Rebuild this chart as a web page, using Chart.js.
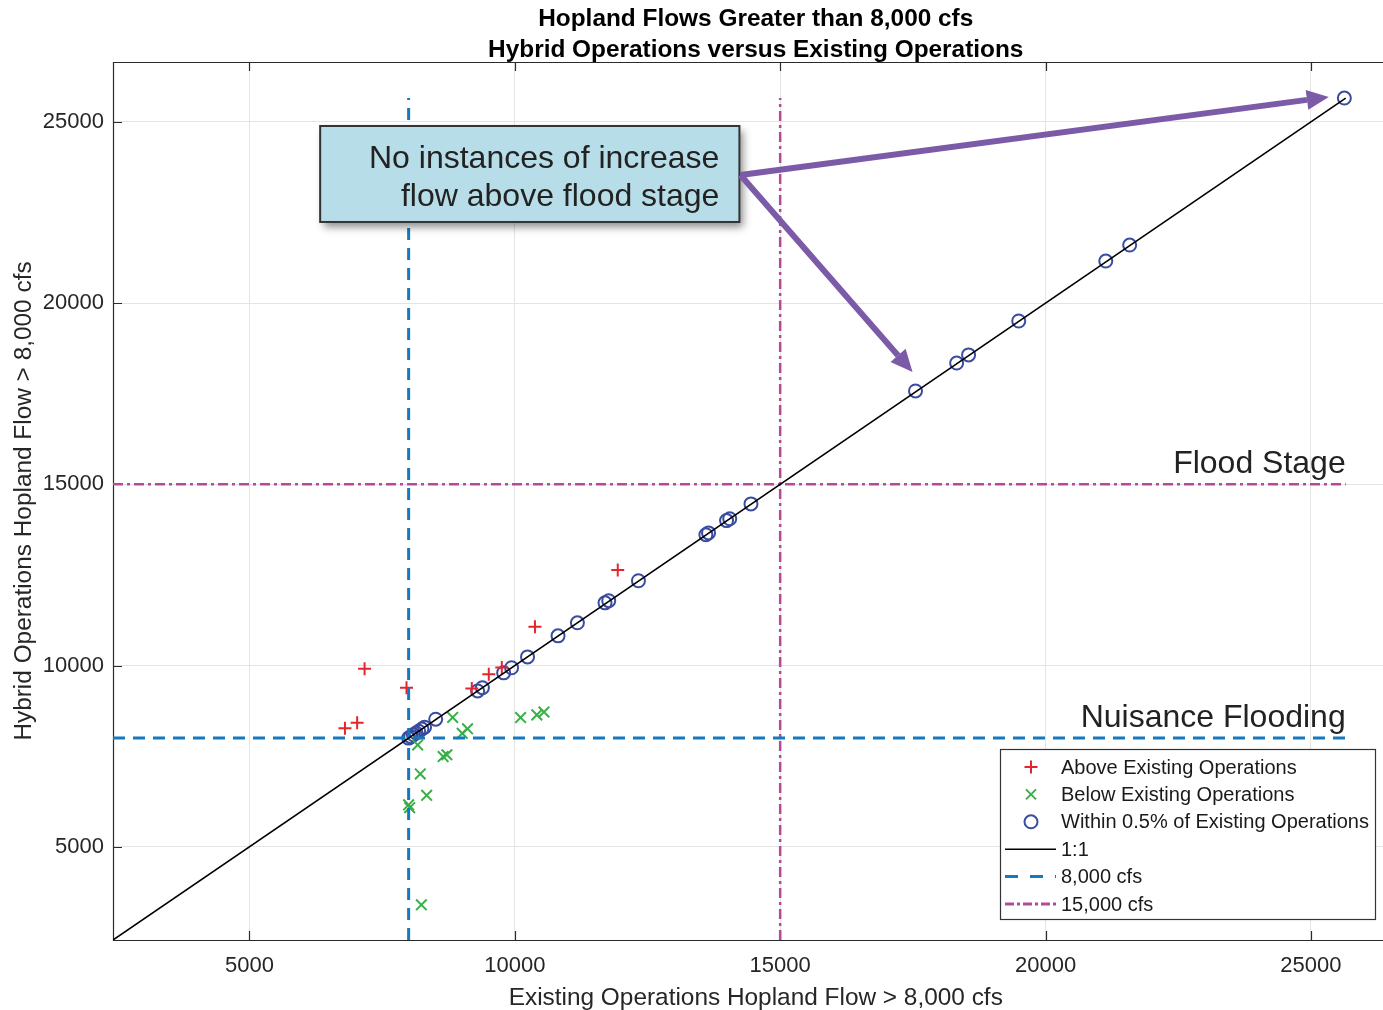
<!DOCTYPE html>
<html>
<head>
<meta charset="utf-8">
<title>Hopland Flows Greater than 8,000 cfs</title>
<script src="https://cdn.jsdelivr.net/npm/chart.js@4.4.1/dist/chart.umd.min.js"></script>
<style>
  html, body { margin: 0; padding: 0; background: #ffffff; overflow: hidden; }
  #wrap { width: 1408px; height: 1010px; }
</style>
</head>
<body>
<div id="wrap"><canvas id="flows" width="1408" height="1010"></canvas></div>
<script>
// Hopland flows (cfs): existing operations on x, hybrid operations on y
const aboveExisting = [6800, 7030, 7170, 7960, 9190, 9510, 9755, 10380, 11940];
const aboveHybrid   = [8270, 8420, 9910, 9390, 9370, 9760, 9950, 11070, 12640];

const belowExisting = [8000, 8020, 8170, 8220, 8340, 8240, 8650, 8720, 8830, 9010, 9110, 10110, 10415, 10550];
const belowHybrid   = [6160, 6080, 7810, 7010, 6420, 3400, 7490, 7540, 8570, 8130, 8255, 8565, 8640, 8720];

const withinExisting = [8000, 8040, 8090, 8140, 8190, 8250, 8300, 8510, 9300, 9390, 9790, 9940, 10240, 10815,
                        11180, 11700, 11770, 12330, 13600, 13650, 13990, 14050, 14450, 17550, 18325, 18550,
                        19495, 21135, 21585, 25630];
const withinHybrid   = [8000, 8040, 8090, 8140, 8190, 8250, 8300, 8520, 9300, 9390, 9800, 9940, 10240, 10820,
                        11180, 11730, 11790, 12340, 13610, 13660, 14000, 14050, 14460, 17575, 18345, 18570,
                        19505, 21160, 21600, 25655];

const tickValues = [5000, 10000, 15000, 20000, 25000];
const tickLabels = ['5000', '10000', '15000', '20000', '25000'];
const axisRange = [2430, 26650];

const nuisanceFlow = 8000;   // 8,000 cfs
const floodFlow = 15000;     // 15,000 cfs (flood stage)

// ---- derived series ----
const toPoints = (xs, ys) => xs.map((x, i) => ({ x: x, y: ys[i] }));
const maxFlow = Math.max(...withinExisting, ...withinHybrid);
const lineStart = axisRange[0];

const FONT = '"Liberation Sans", Arial, Helvetica, sans-serif';
const COLORS = {
  above: '#e5252c',
  below: '#3aae48',
  within: '#3a4c9f',
  unity: '#000000',
  nuisance: '#1479be',
  flood: '#b44a9c',
  arrow: '#7b5ba7',
  text: '#262626',
  frame: '#2b2b2b'
};
const DASH_NUISANCE = [12, 8];
const DASH_FLOOD = [10, 4, 3, 4];

// callout placed in data units so it follows the scales
const callout = {
  x0: 6333, x1: 14232, y0: 22237, y1: 24885,
  lines: ['No instances of increase', 'flow above flood stage'],
  anchor: { x: 14251, y: 23534 },
  targets: [{ x: 25337, y: 25685 }, { x: 17494, y: 18099 }]
};

const legendItems = [
  { kind: 'cross', color: COLORS.above, label: 'Above Existing Operations' },
  { kind: 'x', color: COLORS.below, label: 'Below Existing Operations' },
  { kind: 'circle', color: COLORS.within, label: 'Within 0.5% of Existing Operations' },
  { kind: 'line', color: COLORS.unity, dash: [], width: 1.6, label: '1:1' },
  { kind: 'line', color: COLORS.nuisance, dash: [13, 12], width: 3, label: '8,000 cfs' },
  { kind: 'line', color: COLORS.flood, dash: [9, 3, 3, 3], width: 3, label: '15,000 cfs' }
];

function drawArrow(ctx, x0, y0, x1, y1) {
  const ang = Math.atan2(y1 - y0, x1 - x0);
  const headLen = 22, headHalf = 10;
  const bx = x1 - headLen * Math.cos(ang), by = y1 - headLen * Math.sin(ang);
  ctx.beginPath();
  ctx.moveTo(x0, y0);
  ctx.lineTo(bx, by);
  ctx.stroke();
  ctx.beginPath();
  ctx.moveTo(x1, y1);
  ctx.lineTo(bx + headHalf * Math.sin(ang), by - headHalf * Math.cos(ang));
  ctx.lineTo(bx - headHalf * Math.sin(ang), by + headHalf * Math.cos(ang));
  ctx.closePath();
  ctx.fill();
}

const chartDecor = {
  id: 'chartDecor',
  beforeDatasetsDraw(chart) {
    const { ctx, chartArea: a, scales } = chart;
    ctx.save();
    // axes box (top, left, bottom) and inward tick marks
    ctx.strokeStyle = COLORS.frame;
    ctx.lineWidth = 1.2;
    ctx.beginPath();
    ctx.moveTo(a.right + 2, a.top + 0.5);
    ctx.lineTo(a.left + 0.5, a.top + 0.5);
    ctx.lineTo(a.left + 0.5, a.bottom + 0.5);
    ctx.lineTo(a.right + 2, a.bottom + 0.5);
    ctx.stroke();
    const tl = 9;
    ctx.beginPath();
    tickValues.forEach(v => {
      const px = Math.round(scales.x.getPixelForValue(v)) + 0.5;
      ctx.moveTo(px, a.bottom); ctx.lineTo(px, a.bottom - tl);
      ctx.moveTo(px, a.top); ctx.lineTo(px, a.top + tl);
      const py = Math.round(scales.y.getPixelForValue(v)) + 0.5;
      ctx.moveTo(a.left, py); ctx.lineTo(a.left + tl, py);
    });
    ctx.stroke();
    ctx.restore();
  },
  afterDraw(chart) {
    const { ctx, chartArea: a, scales } = chart;
    const X = v => scales.x.getPixelForValue(v);
    const Y = v => scales.y.getPixelForValue(v);
    const cx = (a.left + a.right) / 2;
    ctx.save();

    // title
    ctx.fillStyle = '#000';
    ctx.textAlign = 'center';
    ctx.textBaseline = 'alphabetic';
    ctx.font = 'bold 24.4px ' + FONT;
    ctx.fillText('Hopland Flows Greater than 8,000 cfs', cx, 26);
    ctx.fillText('Hybrid Operations versus Existing Operations', cx, 57);

    // axis titles
    ctx.fillStyle = COLORS.text;
    ctx.font = '24.4px ' + FONT;
    ctx.fillText('Existing Operations Hopland Flow > 8,000 cfs', cx, 1005);
    ctx.save();
    ctx.translate(31, (a.top + a.bottom) / 2);
    ctx.rotate(-Math.PI / 2);
    ctx.fillText('Hybrid Operations Hopland Flow > 8,000 cfs', 0, 0);
    ctx.restore();

    // threshold labels
    ctx.textAlign = 'right';
    ctx.font = '32px ' + FONT;
    ctx.fillStyle = '#222';
    ctx.fillText('Flood Stage', X(maxFlow), Y(floodFlow) - 11);
    ctx.fillText('Nuisance Flooding', X(maxFlow), Y(nuisanceFlow) - 11);

    // callout box with drop shadow
    const bx0 = X(callout.x0), bx1 = X(callout.x1);
    const by0 = Y(callout.y1), by1 = Y(callout.y0);
    ctx.save();
    ctx.shadowColor = 'rgba(0,0,0,0.45)';
    ctx.shadowBlur = 8;
    ctx.shadowOffsetX = 4;
    ctx.shadowOffsetY = 5;
    ctx.fillStyle = '#b7dde8';
    ctx.fillRect(bx0, by0, bx1 - bx0, by1 - by0);
    ctx.restore();
    ctx.strokeStyle = '#333';
    ctx.lineWidth = 2;
    ctx.strokeRect(bx0, by0, bx1 - bx0, by1 - by0);
    ctx.fillStyle = '#222';
    ctx.font = '32px ' + FONT;
    ctx.textAlign = 'right';
    ctx.fillText(callout.lines[0], bx1 - 20, by0 + 42);
    ctx.fillText(callout.lines[1], bx1 - 20, by0 + 80);

    // arrows from the callout
    ctx.strokeStyle = COLORS.arrow;
    ctx.fillStyle = COLORS.arrow;
    ctx.lineWidth = 6;
    ctx.lineCap = 'butt';
    const ax = X(callout.anchor.x), ay = Y(callout.anchor.y);
    callout.targets.forEach(t => drawArrow(ctx, ax, ay, X(t.x), Y(t.y)));

    // legend
    const lg = { x: 1000.5, y: 749.5, w: 375, h: 170, row0: 767, step: 27.4, sym: 1031, text: 1061, l0: 1005, l1: 1056 };
    ctx.fillStyle = '#fff';
    ctx.fillRect(lg.x, lg.y, lg.w, lg.h);
    ctx.strokeStyle = '#333';
    ctx.lineWidth = 1.2;
    ctx.setLineDash([]);
    ctx.strokeRect(lg.x, lg.y, lg.w, lg.h);
    ctx.font = '20px ' + FONT;
    ctx.textAlign = 'left';
    ctx.textBaseline = 'middle';
    legendItems.forEach((it, i) => {
      const y = lg.row0 + i * lg.step;
      ctx.strokeStyle = it.color;
      ctx.setLineDash([]);
      ctx.lineWidth = 2;
      ctx.beginPath();
      if (it.kind === 'cross') {
        ctx.moveTo(lg.sym - 6.5, y); ctx.lineTo(lg.sym + 6.5, y);
        ctx.moveTo(lg.sym, y - 6.5); ctx.lineTo(lg.sym, y + 6.5);
      } else if (it.kind === 'x') {
        ctx.moveTo(lg.sym - 5, y - 5); ctx.lineTo(lg.sym + 5, y + 5);
        ctx.moveTo(lg.sym - 5, y + 5); ctx.lineTo(lg.sym + 5, y - 5);
      } else if (it.kind === 'circle') {
        ctx.arc(lg.sym, y, 6.5, 0, Math.PI * 2);
      } else {
        ctx.lineWidth = it.width;
        ctx.setLineDash(it.dash);
        ctx.moveTo(lg.l0, y); ctx.lineTo(lg.l1, y);
      }
      ctx.stroke();
      ctx.setLineDash([]);
      ctx.fillStyle = '#1a1a1a';
      ctx.fillText(it.label, lg.text, y + 1);
    });
    ctx.restore();
  }
};

const lineSet = (label, data, color, width, dash) => ({
  label: label, data: data, showLine: true, pointRadius: 0, pointHoverRadius: 0,
  borderColor: color, borderWidth: width, borderDash: dash, fill: false, order: 0
});

const markerSet = (label, data, style, radius, color) => ({
  label: label, data: data, showLine: false, pointStyle: style, pointRadius: radius,
  pointHoverRadius: radius, pointBorderColor: color, pointBackgroundColor: 'rgba(0,0,0,0)',
  borderColor: color, backgroundColor: 'rgba(0,0,0,0)', pointBorderWidth: 2, order: 1
});

const scaleOpts = (isX) => ({
  type: 'linear',
  min: axisRange[0],
  max: axisRange[1],
  afterFit(s) { if (isX) s.height = 70; else s.width = 113; },
  afterBuildTicks(s) { s.ticks = tickValues.map(v => ({ value: v })); },
  grid: { color: '#e4e4e4', lineWidth: 1, drawTicks: false },
  border: { display: false },
  ticks: {
    padding: isX ? 13 : 9,
    color: COLORS.text,
    font: { family: FONT, size: 22 },
    maxRotation: 0,
    autoSkip: false,
    callback: v => tickLabels[tickValues.indexOf(v)]
  }
});

new Chart(document.getElementById('flows'), {
  type: 'scatter',
  data: {
    datasets: [
      markerSet('Above Existing Operations', toPoints(aboveExisting, aboveHybrid), 'cross', 6.5, COLORS.above),
      markerSet('Below Existing Operations', toPoints(belowExisting, belowHybrid), 'crossRot', 7.5, COLORS.below),
      markerSet('Within 0.5% of Existing Operations', toPoints(withinExisting, withinHybrid), 'circle', 6.5, COLORS.within),
      lineSet('1:1', [{ x: lineStart, y: lineStart }, { x: maxFlow, y: maxFlow }], COLORS.unity, 1.6, []),
      lineSet('8,000 cfs', [{ x: nuisanceFlow, y: lineStart }, { x: nuisanceFlow, y: maxFlow }], COLORS.nuisance, 3, DASH_NUISANCE),
      lineSet('8,000 cfs', [{ x: lineStart, y: nuisanceFlow }, { x: maxFlow, y: nuisanceFlow }], COLORS.nuisance, 3, DASH_NUISANCE),
      lineSet('15,000 cfs', [{ x: floodFlow, y: lineStart }, { x: floodFlow, y: maxFlow }], COLORS.flood, 2.5, DASH_FLOOD),
      lineSet('15,000 cfs', [{ x: lineStart, y: floodFlow }, { x: maxFlow, y: floodFlow }], COLORS.flood, 2.5, DASH_FLOOD)
    ]
  },
  options: {
    responsive: false,
    animation: false,
    events: [],
    layout: { padding: { top: 62, left: 0, right: 0, bottom: 0 } },
    plugins: {
      legend: { display: false },
      tooltip: { enabled: false },
      title: { display: false }
    },
    scales: { x: scaleOpts(true), y: scaleOpts(false) }
  },
  plugins: [chartDecor]
});
</script>
</body>
</html>
